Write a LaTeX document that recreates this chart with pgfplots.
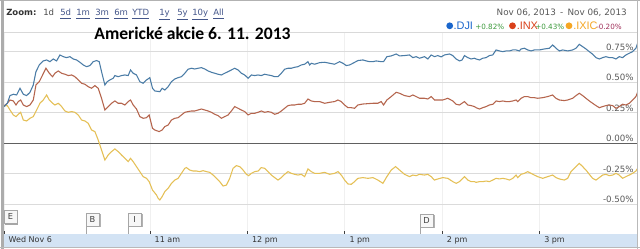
\documentclass[border=0pt]{standalone}
\usepackage{pgfplots}
\pgfplotsset{compat=1.18}
\usepackage{fontspec}
\setmainfont{DejaVu Sans}
\newfontfamily\carlito{Carlito}
\newfontfamily\arialf{Liberation Sans}
\definecolor{djiline}{HTML}{4A7CA6}
\definecolor{inxline}{HTML}{B5654D}
\definecolor{ixicline}{HTML}{E5C056}
\definecolor{band}{HTML}{D3E3F4}
\definecolor{linkc}{HTML}{44568A}
\definecolor{pctgreen}{HTML}{3C9A3C}
\definecolor{pctneg}{HTML}{A0305A}
\definecolor{djidot}{HTML}{1A66CC}
\definecolor{inxdot}{HTML}{D9401A}
\definecolor{ixicdot}{HTML}{F5A623}
\begin{document}
\begin{tikzpicture}
\begin{scope}[x=0.75pt,y=-0.75pt]
\fill[white] (0,0) rectangle (640,249);
\fill[band] (4,234) rectangle (637,247);
\draw[gray!30, line width=0.75pt] (4,33) -- (637,33);
\end{scope}
\begin{axis}[
  at={(3pt,-175.5pt)}, anchor=south west,
  scale only axis, width=474.75pt, height=150.75pt,
  xmin=0, xmax=390, ymin=-0.743, ymax=0.904,
  axis line style={draw=none},
  xtick={0,90,150,210,270,330},
  xticklabels={Wed Nov 6, 11 am, 12 pm, 1 pm, 2 pm, 3 pm},
  xtick pos=left,
  tick align=inside,
  major tick length=2.25pt,
  xtick style={draw=black!75, line width=0.75pt},
  xticklabel style={anchor=north west, font=\fontsize{6}{7}\selectfont, text=black!80, xshift=1.5pt, inner sep=1.8pt},
  ytick={-0.5,-0.25,0,0.25,0.5,0.75},
  yticklabels={-0.50\%,-0.25\%,0.00\%,0.25\%,0.50\%,0.75\%},
  yticklabel pos=right,
  ytick style={draw=none},
  yticklabel style={anchor=south east, inner sep=0pt, xshift=-2.25pt, yshift=0.9pt, font=\fontsize{6.5}{7}\selectfont, text=black!65},
  xmajorgrids, ymajorgrids,
  x grid style={draw=gray!12, line width=0.75pt},
  y grid style={draw=gray!28, line width=0.75pt},
]
\addplot[gray!75!black, line width=0.8pt, forget plot] coordinates {(0,0) (390,0)};
% .IXIC
\addplot[ixicline, line width=0.8pt] table {
x y
0 0.306
2.05 0.309
3.69 0.273
5.74 0.232
7.38 0.219
8.82 0.238
10.26 0.254
11.90 0.191
13.95 0.183
16.0 0.205
18.05 0.219
20.10 0.273
22.15 0.328
24.20 0.355
26.26 0.396
27.90 0.355
29.95 0.328
31.38 0.314
33.44 0.328
35.49 0.301
37.54 0.265
39.59 0.254
41.64 0.260
43.69 0.254
45.74 0.232
47.79 0.191
49.85 0.183
51.89 0.164
53.95 0.109
56.0 0.096
58.05 0.027
60.10 -0.055
62.15 -0.137
64.20 -0.096
66.26 -0.068
68.31 -0.046
70.36 -0.068
72.41 -0.096
74.46 -0.123
76.51 -0.150
77.95 -0.123
79.59 -0.150
81.64 -0.191
83.69 -0.232
85.74 -0.273
87.80 -0.287
89.44 -0.314
91.49 -0.383
93.95 -0.423
95.0 -0.451
96.0 -0.464
97.43 -0.437
99.08 -0.396
101.13 -0.369
103.18 -0.328
105.23 -0.301
107.28 -0.287
109.33 -0.246
111.38 -0.205
112.41 -0.199
114.46 -0.219
116.51 -0.227
118.56 -0.227
120.61 -0.232
122.67 -0.224
124.72 -0.232
126.77 -0.238
128.82 -0.260
130.87 -0.287
132.92 -0.314
134.97 -0.350
137.02 -0.342
139.08 -0.287
141.13 -0.205
143.18 -0.183
145.23 -0.191
147.28 -0.219
149.33 -0.254
150.77 -0.265
152.41 -0.246
154.46 -0.232
156.51 -0.227
158.56 -0.199
160.61 -0.205
162.66 -0.232
164.72 -0.260
166.77 -0.281
168.82 -0.301
170.87 -0.281
172.92 -0.254
174.97 -0.232
177.02 -0.246
179.08 -0.254
181.13 -0.260
183.18 -0.254
185.23 -0.273
187.28 -0.210
189.33 -0.232
191.38 -0.246
194.46 -0.246
197.54 -0.238
200.62 -0.254
203.69 -0.246
205.75 -0.232
207.80 -0.260
209.85 -0.301
211.90 -0.333
213.95 -0.336
216.0 -0.314
218.05 -0.287
221.13 -0.281
224.21 -0.287
227.28 -0.281
230.36 -0.301
233.44 -0.328
235.90 -0.273
238.57 -0.219
241.24 -0.191
243.70 -0.219
246.77 -0.254
249.85 -0.273
251.90 -0.260
253.95 -0.265
256.0 -0.254
259.08 -0.260
261.13 -0.254
263.18 -0.273
265.23 -0.301
267.29 -0.292
270.36 -0.281
273.44 -0.287
276.52 -0.314
278.57 -0.328
280.62 -0.314
283.70 -0.273
285.75 -0.301
287.80 -0.314
289.85 -0.314
290.87 -0.320
292.93 -0.314
294.98 -0.314
297.03 -0.309
299.08 -0.314
301.13 -0.301
303.18 -0.287
305.23 -0.292
307.28 -0.287
309.33 -0.292
311.39 -0.301
313.44 -0.287
315.49 -0.260
316.51 -0.281
318.56 -0.254
320.62 -0.246
322.67 -0.232
324.72 -0.246
326.77 -0.260
328.82 -0.273
331.90 -0.287
334.98 -0.273
338.05 -0.260
340.10 -0.281
342.15 -0.292
345.23 -0.301
347.28 -0.287
349.33 -0.232
352.41 -0.191
354.46 -0.164
356.51 -0.191
358.57 -0.219
360.62 -0.254
362.67 -0.287
364.72 -0.301
366.77 -0.281
368.82 -0.260
370.87 -0.254
372.92 -0.265
374.98 -0.260
377.03 -0.246
379.08 -0.260
381.13 -0.287
383.18 -0.273
385.23 -0.260
387.28 -0.246
389.33 -0.227
390.36 -0.205
};
% .INX
\addplot[inxline, line width=0.8pt] table {
x y
0 0.306
2.05 0.328
3.69 0.355
5.74 0.347
7.38 0.314
8.82 0.342
10.26 0.355
11.90 0.314
13.95 0.301
16.0 0.314
18.05 0.355
19.69 0.478
21.74 0.505
23.79 0.560
25.85 0.615
27.90 0.574
29.95 0.546
31.38 0.574
33.44 0.593
35.49 0.574
37.54 0.566
39.59 0.555
41.64 0.560
43.69 0.546
45.74 0.519
47.79 0.492
49.85 0.484
51.89 0.464
53.95 0.451
56.0 0.473
58.05 0.451
60.10 0.369
62.15 0.273
64.20 0.301
66.26 0.328
68.31 0.347
70.36 0.328
72.41 0.328
74.46 0.314
76.51 0.342
77.95 0.355
79.59 0.314
81.64 0.281
83.69 0.219
85.74 0.205
87.80 0.210
89.44 0.232
91.49 0.123
92.92 0.109
95.59 0.096
97.43 0.109
99.08 0.137
101.13 0.150
103.18 0.191
105.23 0.205
107.28 0.210
109.33 0.232
111.38 0.254
113.43 0.260
115.48 0.265
117.54 0.265
119.59 0.273
121.64 0.281
123.69 0.273
125.74 0.265
127.79 0.254
129.84 0.238
131.89 0.227
133.95 0.205
136.0 0.219
138.05 0.232
140.10 0.265
142.15 0.301
144.20 0.287
146.25 0.273
148.30 0.260
150.36 0.232
152.41 0.246
154.46 0.246
156.51 0.254
158.56 0.265
160.61 0.254
162.66 0.260
164.72 0.254
166.77 0.238
168.82 0.246
170.87 0.265
172.92 0.287
174.97 0.309
177.02 0.314
179.08 0.314
181.13 0.320
183.18 0.320
185.23 0.328
187.28 0.363
188.31 0.355
189.33 0.347
191.38 0.342
194.46 0.342
197.54 0.328
200.62 0.336
203.69 0.342
205.75 0.355
207.80 0.342
209.85 0.314
211.90 0.292
213.95 0.292
216.0 0.287
218.05 0.314
221.13 0.322
224.21 0.325
227.28 0.328
230.36 0.328
232.41 0.342
233.85 0.314
235.90 0.355
238.57 0.383
241.64 0.418
243.70 0.410
246.77 0.391
249.85 0.383
251.90 0.396
253.95 0.383
256.0 0.369
259.08 0.369
261.13 0.363
263.18 0.383
265.23 0.355
267.29 0.355
270.36 0.355
273.44 0.369
276.52 0.347
278.57 0.320
280.62 0.314
283.70 0.342
285.75 0.314
287.80 0.309
289.85 0.301
290.87 0.292
292.93 0.281
294.98 0.292
297.03 0.301
299.08 0.314
301.13 0.320
303.18 0.347
305.23 0.342
307.28 0.347
309.33 0.342
311.39 0.342
313.44 0.347
315.49 0.355
316.51 0.342
318.56 0.369
320.62 0.383
322.67 0.383
324.72 0.374
326.77 0.374
328.82 0.369
331.90 0.374
334.98 0.383
338.05 0.396
340.10 0.369
342.15 0.355
345.23 0.350
347.28 0.355
350.36 0.369
352.41 0.391
354.46 0.410
356.51 0.391
358.57 0.369
360.62 0.347
362.67 0.328
364.72 0.309
366.77 0.292
368.82 0.301
370.87 0.309
372.92 0.314
374.98 0.309
377.03 0.287
379.08 0.301
381.13 0.320
383.18 0.314
385.23 0.328
387.28 0.355
389.33 0.383
390.36 0.418
};
% .DJI
\addplot[djiline, line width=0.8pt] table {
x y
0 0.301
2.05 0.328
3.69 0.391
5.74 0.402
7.80 0.396
9.85 0.451
11.90 0.402
13.95 0.391
16.0 0.418
18.05 0.478
19.69 0.587
21.74 0.642
24.20 0.675
26.26 0.683
28.31 0.669
30.36 0.691
32.41 0.675
34.46 0.724
36.51 0.710
38.56 0.702
40.62 0.710
42.66 0.691
44.72 0.683
46.77 0.664
48.82 0.642
50.87 0.628
52.92 0.637
54.97 0.669
57.03 0.678
58.66 0.669
60.10 0.587
62.15 0.478
63.59 0.505
65.23 0.519
67.28 0.533
68.31 0.555
70.36 0.546
72.41 0.555
74.46 0.560
76.51 0.555
77.95 0.601
79.59 0.574
81.64 0.560
83.69 0.505
85.74 0.492
87.80 0.519
89.85 0.538
91.49 0.451
92.92 0.429
96.0 0.423
97.43 0.451
99.08 0.437
101.13 0.464
103.18 0.505
105.23 0.527
107.28 0.538
109.33 0.546
111.38 0.574
113.43 0.607
115.48 0.615
117.54 0.609
119.59 0.615
121.64 0.620
123.69 0.609
125.74 0.593
127.79 0.582
129.84 0.574
131.89 0.566
133.95 0.560
136.0 0.574
138.05 0.587
140.10 0.601
142.15 0.615
144.20 0.601
146.25 0.574
148.30 0.560
150.36 0.533
152.41 0.560
154.46 0.555
156.51 0.560
158.56 0.555
160.61 0.566
162.66 0.560
164.72 0.555
166.77 0.546
168.82 0.546
170.87 0.574
172.92 0.607
174.97 0.615
177.02 0.615
179.08 0.623
181.13 0.628
183.18 0.642
185.23 0.648
187.28 0.669
188.31 0.642
189.33 0.656
191.38 0.648
194.46 0.661
197.54 0.664
200.62 0.656
203.69 0.648
206.77 0.669
208.82 0.656
210.87 0.637
212.92 0.642
214.98 0.656
218.05 0.678
221.13 0.683
223.18 0.675
225.23 0.669
227.28 0.669
229.34 0.675
232.41 0.669
233.85 0.669
235.90 0.710
238.57 0.716
241.64 0.732
243.70 0.716
246.77 0.719
249.85 0.724
251.90 0.702
253.95 0.710
256.0 0.697
259.08 0.710
261.13 0.691
263.18 0.724
265.23 0.710
267.29 0.719
269.34 0.708
271.39 0.724
274.46 0.732
276.52 0.719
278.57 0.691
280.62 0.675
282.26 0.683
283.70 0.719
285.75 0.702
287.80 0.691
289.85 0.697
290.87 0.691
292.93 0.683
294.98 0.697
297.03 0.702
299.08 0.719
301.13 0.724
303.18 0.765
305.23 0.757
307.28 0.751
309.33 0.757
311.39 0.757
313.44 0.765
315.49 0.765
317.54 0.757
318.56 0.773
320.62 0.779
322.67 0.765
324.72 0.757
326.77 0.765
329.85 0.765
332.92 0.773
336.0 0.779
338.05 0.806
340.1 0.779
342.15 0.757
344.21 0.765
347.28 0.757
350.36 0.765
352.41 0.779
354.46 0.811
356.51 0.792
358.57 0.773
360.62 0.751
362.67 0.730
364.72 0.702
366.77 0.691
368.82 0.702
370.87 0.710
372.92 0.702
374.98 0.702
377.03 0.691
379.08 0.710
381.13 0.702
383.18 0.724
385.23 0.738
387.28 0.751
389.33 0.779
390.36 0.820
};
\end{axis}
\begin{scope}[x=0.75pt,y=-0.75pt]
% frame
\draw[gray!60, line width=0.75pt] (0,0.5) -- (640,0.5);
\draw[gray!65, line width=1.5pt] (2.5,0) -- (2.5,249);
\draw[gray!55, line width=1.2pt] (637.5,0) -- (637.5,249);
\draw[gray!55, line width=0.75pt] (0,248) -- (640,248);
% toolbar
\node[anchor=base west, inner sep=0pt, font=\bfseries\fontsize{6.4}{7}\selectfont, text=black!80] at (6,16) {Zoom:};
\begin{scope}[every node/.style={anchor=base west, inner sep=0pt, font=\fontsize{6.4}{7}\selectfont, text=linkc}]
\node[text=black!70] at (43,16) {1d};
\node at (60,16) {\underline{5d}};
\node at (76,16) {\underline{1m}};
\node at (95,16) {\underline{3m}};
\node at (114,16) {\underline{6m}};
\node at (132,16) {\underline{YTD}};
\node at (159,16) {\underline{1y}};
\node at (177,16) {\underline{5y}};
\node at (192,16) {\underline{10y}};
\node at (213,16) {\underline{All}};
\end{scope}
% title
\node[anchor=base, inner sep=0pt, font=\carlito\bfseries\fontsize{13.2}{15}\selectfont] at (192.5,39.3) {Americké akcie 6. 11. 2013};
% date range
\node[anchor=base east, inner sep=0pt, font=\fontsize{6.6}{7}\selectfont, text=black!65] at (627,16) {Nov 06, 2013 \,-\, Nov 06, 2013};
% legend
\fill[djidot] (449.7,25.8) circle (3.4);
\node[anchor=base west, inner sep=0pt, font=\arialf\fontsize{8.2}{9}\selectfont, text=djidot] at (453.3,29.3) {.DJI};
\node[anchor=base west, inner sep=0pt, font=\fontsize{5.4}{6}\selectfont, text=pctgreen] at (475,29.3) {+0.82\%};
\fill[inxdot] (512.5,25.8) circle (3.4);
\node[anchor=base west, inner sep=0pt, font=\arialf\fontsize{8.2}{9}\selectfont, text=inxdot] at (516.5,29.3) {.INX};
\node[anchor=base west, inner sep=0pt, font=\fontsize{5.4}{6}\selectfont, text=pctgreen] at (535,29.3) {+0.43\%};
\fill[ixicdot] (569,25.8) circle (3.4);
\node[anchor=base west, inner sep=0pt, font=\arialf\fontsize{8.2}{9}\selectfont, text=ixicdot] at (573,29.3) {.IXIC};
\node[anchor=base west, inner sep=0pt, font=\fontsize{5.4}{6}\selectfont, text=pctneg] at (596,29.3) {-0.20\%};
% event flags
\begin{scope}[every node/.style={inner sep=0pt, font=\fontsize{6.2}{7}\selectfont, text=black!75}]
\fill[gray!70] (5,222) rectangle (18,225);
\draw[gray!70, fill=gray!6, line width=0.6pt] (4,210) rectangle (17,223);
\node at (10.5,216.5) {E};
\draw[gray!70, line width=0.6pt] (86,226) -- (86,234);
\fill[gray!60] (87,214) rectangle (100.5,227.5);
\draw[gray!70, fill=gray!6, line width=0.6pt] (86,213) rectangle (99,226);
\node at (92.5,219.5) {B};
\draw[gray!70, line width=0.6pt] (128,226) -- (128,234);
\fill[gray!60] (129,214) rectangle (142.5,227.5);
\draw[gray!70, fill=gray!6, line width=0.6pt] (128,213) rectangle (141,226);
\node at (134.5,219.5) {I};
\draw[gray!70, line width=0.6pt] (420,227) -- (420,234);
\fill[gray!60] (421,215) rectangle (434.5,228.5);
\draw[gray!70, fill=gray!6, line width=0.6pt] (420,214) rectangle (433,227);
\node at (426.5,220.5) {D};
\end{scope}
\pgfresetboundingbox
\path (0,0) rectangle (640,249);
\end{scope}
\end{tikzpicture}
\end{document}
